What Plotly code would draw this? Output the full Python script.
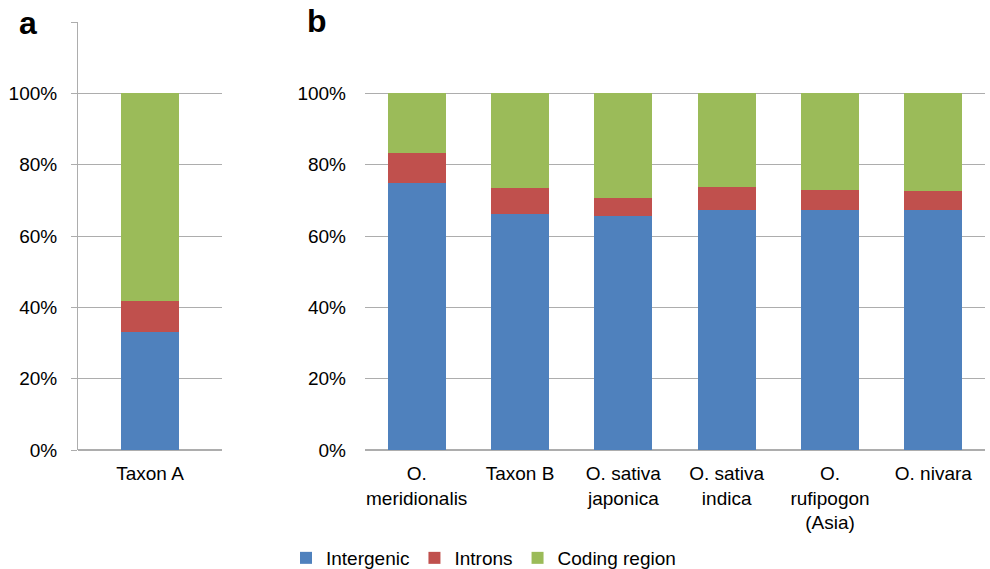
import plotly.graph_objects as go

series = ["Intergenic", "Introns", "Coding region"]
colors = ["#4F81BD", "#C0504D", "#9BBB59"]

cats_a = ["Taxon A"]
intergenic_a = [0.33]
introns_a = [0.087]
coding_a = [0.583]

cats_b = ["O.<br>meridionalis", "Taxon B", "O. sativa<br>japonica", "O. sativa<br>indica",
          "O.<br>rufipogon<br>(Asia)", "O. nivara"]
intergenic_b = [0.75, 0.661, 0.656, 0.672, 0.672, 0.672]
introns_b = [0.083, 0.074, 0.05, 0.065, 0.056, 0.054]
coding_b = [1 - a - b for a, b in zip(intergenic_b, introns_b)]

tickvals = [0, 0.2, 0.4, 0.6, 0.8, 1.0, 1.2]
ticktext = ["0%", "20%", "40%", "60%", "80%", "100%", ""]

fig = go.Figure()
for name, col, va, vb in zip(series, colors,
                             [intergenic_a, introns_a, coding_a],
                             [intergenic_b, introns_b, coding_b]):
    fig.add_trace(go.Bar(x=cats_a, y=va, name=name, marker_color=col,
                         marker_line_width=0, xaxis="x", yaxis="y",
                         width=0.4, showlegend=True, legendgroup=name))
    fig.add_trace(go.Bar(x=cats_b, y=vb, name=name, marker_color=col,
                         marker_line_width=0, xaxis="x2", yaxis="y2",
                         width=0.56, showlegend=False, legendgroup=name))

font = dict(family="Liberation Sans, Arial, sans-serif", size=19, color="#000000")
gridc = "#ADADAD"

ML, MR, MT, MB = 78, 5, 22, 119
W, H = 990 - ML - MR, 569 - MT - MB

fig.update_layout(
    width=990, height=569,
    barmode="stack",
    plot_bgcolor="white", paper_bgcolor="white",
    margin=dict(l=ML, r=MR, t=MT, b=MB, autoexpand=False),
    font=font,
    xaxis=dict(domain=[0, 144 / W], showgrid=False, showline=False, ticks="",
               tickfont=font, automargin=False, ticklabelstandoff=10),
    yaxis=dict(range=[0, 1.2], tickvals=tickvals, ticktext=ticktext,
               showgrid=True, gridcolor=gridc, gridwidth=1,
               showline=True, linecolor=gridc, linewidth=1,
               ticks="outside", ticklen=6, tickcolor=gridc,
               zeroline=True, zerolinecolor=gridc, tickfont=font,
               automargin=False, ticklabelstandoff=10),
    xaxis2=dict(domain=[287 / W, 1], showgrid=False, showline=False, ticks="",
                tickfont=font, anchor="y2", automargin=False, ticklabelstandoff=10),
    yaxis2=dict(range=[0, 1.2], tickvals=tickvals, ticktext=ticktext,
                showgrid=True, gridcolor=gridc, gridwidth=1,
                showline=False, ticks="", zeroline=True, zerolinecolor=gridc,
                tickfont=font, anchor="x2", automargin=False, ticklabelstandoff=18),
    legend=dict(orientation="h", x=(286 - ML) / W, y=-(539 - MT - H) / H,
                xanchor="left", yanchor="top",
                font=font, itemwidth=30, traceorder="normal", tracegroupgap=0),
    bargap=0.3,
)
fig.add_annotation(text="<b>a</b>", x=(28 - ML) / W, y=(569 - MB - 23) / H,
                   xref="paper", yref="paper", showarrow=False,
                   xanchor="center", yanchor="middle",
                   font=dict(family="Liberation Sans, Arial", size=32, color="black"))
fig.add_annotation(text="<b>b</b>", x=(317 - ML) / W, y=(569 - MB - 21) / H,
                   xref="paper", yref="paper", showarrow=False,
                   xanchor="center", yanchor="middle",
                   font=dict(family="Liberation Sans, Arial", size=32, color="black"))

fig.write_html("out.html", config={"displayModeBar": False},
               post_script="document.body.style.margin='0';document.body.style.overflow='hidden';")
